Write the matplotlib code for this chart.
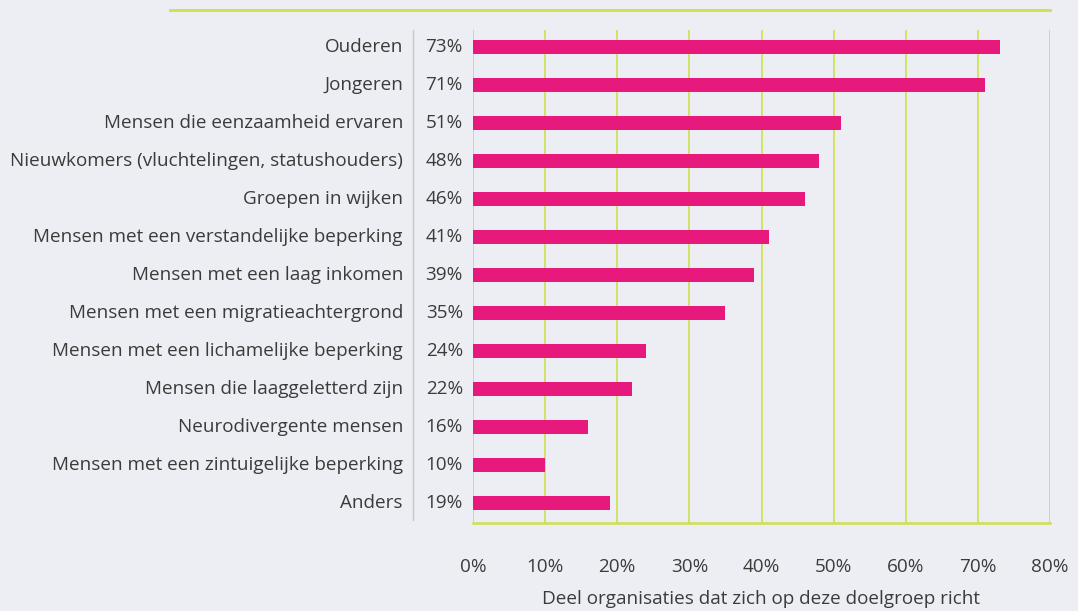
import matplotlib.pyplot as plt
from matplotlib.lines import Line2D

categorieen = [
    "Ouderen",
    "Jongeren",
    "Mensen die eenzaamheid ervaren",
    "Nieuwkomers (vluchtelingen, statushouders)",
    "Groepen in wijken",
    "Mensen met een verstandelijke beperking",
    "Mensen met een laag inkomen",
    "Mensen met een migratieachtergrond",
    "Mensen met een lichamelijke beperking",
    "Mensen die laaggeletterd zijn",
    "Neurodivergente mensen",
    "Mensen met een zintuigelijke beperking",
    "Anders",
]
waarden = [73, 71, 51, 48, 46, 41, 39, 35, 24, 22, 16, 10, 19]
x_ticks = [0, 10, 20, 30, 40, 50, 60, 70, 80]

bg = "#eceef3"
roze = "#e8197c"
groen = "#cfe04a"
tekst = "#3b3b3b"
fs = 13.6

plt.rcParams['font.family'] = ['Open Sans', 'DejaVu Sans']

fig = plt.figure(figsize=(10.78, 6.11), dpi=100, facecolor=bg)
ax = fig.add_axes([473 / 1078, 1 - 523 / 611, 577 / 1078, 493 / 611])
ax.set_facecolor(bg)

y = list(range(len(categorieen)))
ax.barh(y, waarden, height=0.38, color=roze, zorder=3)
ax.set_xlim(0, 80)
ax.set_ylim(12.53, -0.45)

for t in x_ticks:
    ax.axvline(t, color=groen, lw=1.2, zorder=1)
for s in ax.spines.values():
    s.set_visible(False)
ax.axhline(12.53, color=groen, lw=1.8, zorder=2, clip_on=False)

ax.set_xticks(x_ticks)
ax.set_xticklabels([f"{t}%" for t in x_ticks], fontsize=fs, color=tekst)
ax.tick_params(axis='x', length=0, pad=25)
ax.set_yticks([])
ax.set_xlabel("Deel organisaties dat zich op deze doelgroep richt",
              fontsize=fs, color=tekst, labelpad=10)

for i, (c, w) in enumerate(zip(categorieen, waarden)):
    ax.text(-70 / 72.1 * 10, i, c, ha='right', va='center',
            fontsize=fs, color=tekst)
    ax.text(-10 / 72.1 * 10, i, f"{w}%", ha='right', va='center',
            fontsize=fs, color=tekst)

# scheidingslijn tussen labels en percentages
fig.add_artist(Line2D([413 / 1078, 413 / 1078], [1 - 30 / 611, 1 - 520 / 611],
                      color="#c8c8c8", lw=1))
# bovenste lijn
fig.add_artist(Line2D([170 / 1078, 1050 / 1078], [1 - 10 / 611, 1 - 10 / 611],
                      color=groen, lw=2))

fig.savefig("out.png", dpi=100, facecolor=bg)
